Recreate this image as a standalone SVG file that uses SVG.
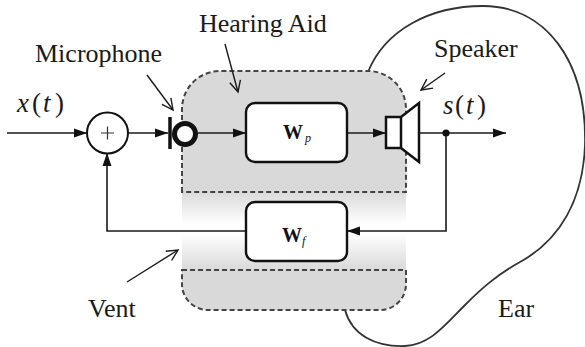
<svg xmlns="http://www.w3.org/2000/svg" width="585" height="347" viewBox="0 0 585 347">
  <defs>
    <style>
      text { font-family: "Liberation Serif", "Times New Roman", "DejaVu Serif", serif; }
      .lbl { font-size: 26px; fill: #1a1a1a; }
      .math { font-size: 27px; fill: #1a1a1a; }
      .it { font-style: italic; }
      .wt { font-size: 20px; font-weight: bold; fill: #111; }
      .sub { font-size: 12px; font-style: italic; fill: #111; }
      .wire { fill: none; stroke: #1a1a1a; stroke-width: 1.6; }
      .ptr { fill: none; stroke: #1a1a1a; stroke-width: 1.4; }
      .box { fill: #fff; stroke: #111; stroke-width: 2.4; }
      .dash { fill: none; stroke: #444; stroke-width: 2; stroke-dasharray: 5 3; }
    </style>
    <marker id="head" markerUnits="userSpaceOnUse" markerWidth="14" markerHeight="12" viewBox="0 0 14 12" refX="13" refY="6" orient="auto">
      <path d="M0,1.5 L13,6 L0,10.5 Z" fill="#111"/>
    </marker>
    <marker id="open" markerUnits="userSpaceOnUse" markerWidth="14" markerHeight="14" viewBox="0 0 14 14" refX="12" refY="7" orient="auto">
      <path d="M1,1.5 L12,7 L1,12.5" fill="none" stroke="#1a1a1a" stroke-width="1.4"/>
    </marker>
    <linearGradient id="aidFill" gradientUnits="userSpaceOnUse" x1="0" y1="71" x2="0" y2="310">
      <stop offset="0" stop-color="#d9d9d9"/>
      <stop offset="0.506" stop-color="#d9d9d9"/>
      <stop offset="0.52" stop-color="#dedede"/>
      <stop offset="0.64" stop-color="#ffffff"/>
      <stop offset="0.68" stop-color="#ffffff"/>
      <stop offset="0.82" stop-color="#dcdcdc"/>
      <stop offset="0.833" stop-color="#d9d9d9"/>
      <stop offset="1" stop-color="#d9d9d9"/>
    </linearGradient>
  </defs>

  <!-- Ear outline -->
  <g id="ear">
    <path d="M368 72 C385 30 430 6 483 6 C545 6 587 60 585 145 C583 200 560 240 520 262 C495 276 480 290 465 305 C445 325 430 345 405 346 C375 347 352 335 345 310" fill="none" stroke="#333" stroke-width="1.8"/>
    <text class="lbl" font-family="Liberation Serif, serif" x="498" y="317">Ear</text>
  </g>

  <!-- Hearing aid housing with vent -->
  <g id="hearing-aid">
    <path d="M182 109 A38 38 0 0 1 220 71 L368 71 A38 38 0 0 1 406 109 L406 284 A26 26 0 0 1 380 310 L208 310 A26 26 0 0 1 182 284 Z" fill="url(#aidFill)"/>
    <path class="dash" d="M182 192 L182 109 A38 38 0 0 1 220 71 L368 71 A38 38 0 0 1 406 109 L406 192 Z"/>
    <path class="dash" d="M182 270 L406 270 L406 284 A26 26 0 0 1 380 310 L208 310 A26 26 0 0 1 182 284 Z"/>
    <text class="lbl" font-family="Liberation Serif, serif" x="199" y="32">Hearing Aid</text>
  </g>

  <!-- Connectors -->
  <g id="connectors">
    <path class="wire" d="M7 133 H87" marker-end="url(#head)"/>
    <path class="wire" d="M128 133 H168" marker-end="url(#head)"/>
    <path class="wire" d="M198 133 H246" marker-end="url(#head)"/>
    <path class="wire" d="M347 133 H386" marker-end="url(#head)"/>
    <path class="wire" d="M419 133 H506" marker-end="url(#head)"/>
    <path class="wire" d="M446 133 V231 H347" marker-end="url(#head)"/>
    <path class="wire" d="M246 231 H107 V153" marker-end="url(#head)"/>
    <circle cx="446" cy="133" r="3.6" fill="#111"/>
    <!-- label pointers -->
    <path class="ptr" d="M147 75 L173 110" marker-end="url(#open)"/>
    <path class="ptr" d="M225 44 L238 92" marker-end="url(#open)"/>
    <path class="ptr" d="M445 73 L421 90" marker-end="url(#open)"/>
    <path class="ptr" d="M127 282 L178 250" marker-end="url(#open)"/>
  </g>

  <!-- Summing junction -->
  <g id="sum">
    <circle cx="107.5" cy="133" r="20.5" fill="#fff" stroke="#111" stroke-width="2"/>
    <path d="M101 133 H114 M107.5 126.5 V139.5" stroke="#333" stroke-width="1.2"/>
  </g>

  <!-- Microphone -->
  <g id="microphone">
    <path d="M170 117 V149" stroke="#111" stroke-width="3.5"/>
    <circle cx="185" cy="134" r="10.5" fill="#fff" stroke="#111" stroke-width="5"/>
    <text class="lbl" font-family="Liberation Serif, serif" x="35" y="62">Microphone</text>
  </g>

  <!-- Forward path filter -->
  <g id="wp">
    <rect class="box" x="246" y="103" width="101" height="59" rx="9"/>
    <text class="wt" font-family="Liberation Serif, serif" x="283" y="139">W</text>
    <text class="sub" font-family="Liberation Serif, serif" x="305" y="142">p</text>
  </g>

  <!-- Feedback path filter -->
  <g id="wf">
    <rect class="box" x="246" y="202" width="101" height="59" rx="9"/>
    <text class="wt" font-family="Liberation Serif, serif" x="282" y="242">W</text>
    <text class="sub" font-family="Liberation Serif, serif" x="302" y="245">f</text>
  </g>

  <!-- Speaker -->
  <g id="speaker">
    <path d="M386 117 H401 L419 103 V162 L401 148 H386 Z M401 117 V148" fill="#fff" stroke="#111" stroke-width="2.5" stroke-linejoin="miter"/>
    <text class="lbl" font-family="Liberation Serif, serif" x="434" y="57">Speaker</text>
  </g>

  <!-- Signal labels -->
  <g id="signals">
    <text class="math" font-family="Liberation Serif, serif"><tspan class="it" x="17" y="112">x</tspan><tspan x="32" y="112">(</tspan><tspan class="it" x="43" y="112">t</tspan><tspan x="55" y="112">)</tspan></text>
    <text class="math" font-family="Liberation Serif, serif"><tspan class="it" x="443" y="114">s</tspan><tspan x="455" y="114">(</tspan><tspan class="it" x="466" y="114">t</tspan><tspan x="477" y="114">)</tspan></text>
  </g>

  <!-- Vent label -->
  <g id="vent">
    <text class="lbl" font-family="Liberation Serif, serif" x="88" y="317">Vent</text>
  </g>
</svg>
